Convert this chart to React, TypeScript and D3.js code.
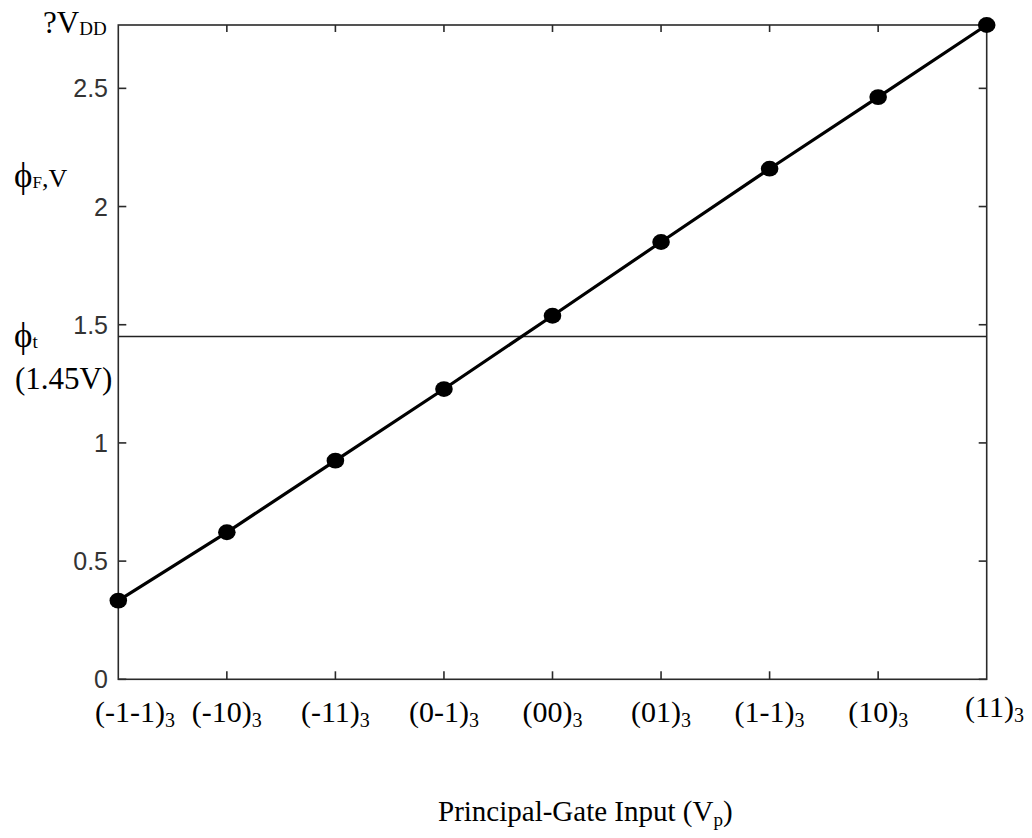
import React from "react";
import * as d3 from "d3";

const categories = ["(-1-1)", "(-10)", "(-11)", "(0-1)", "(00)", "(01)", "(1-1)", "(10)", "(11)"];
const phiF = [0.333, 0.622, 0.925, 1.228, 1.538, 1.85, 2.16, 2.463, 2.768];
const yTicks = [0, 0.5, 1, 1.5, 2, 2.5];
const threshold = 1.45;
const yMax = 2.768;

const L = 118.3, R = 986.7, T = 25, B = 679.3;
const serif = "'Liberation Serif', 'Times New Roman', serif";
const sans = "'Liberation Sans', Arial, sans-serif";

export default function App() {
  const x = d3.scaleLinear().domain([0, categories.length - 1]).range([L, R]);
  const y = d3.scaleLinear().domain([0, yMax]).range([B, T]);
  const line = d3.line<number>().x((_, i) => x(i)).y((d) => y(d));
  const tl = 8;
  const axis = "#2a2a2a";
  return (
    <svg width={1032} height={838} style={{ position: "absolute", left: 0, top: 0, background: "#fff" }}>
      {yTicks.map((t) => (
        <g key={"y" + t}>
          <line x1={L} x2={L + tl} y1={y(t)} y2={y(t)} stroke={axis} strokeWidth={1.6} />
          <line x1={R} x2={R - tl} y1={y(t)} y2={y(t)} stroke={axis} strokeWidth={1.6} />
          <text x={108} y={y(t)} dominantBaseline="central" textAnchor="end" fontFamily={sans} fontSize={25} fill="#333">
            {String(t)}
          </text>
        </g>
      ))}
      {categories.map((c, i) => (
        <g key={"x" + i}>
          {i > 0 && i < categories.length - 1 && (
            <>
              <line x1={x(i)} x2={x(i)} y1={B} y2={B - tl} stroke={axis} strokeWidth={1.6} />
              <line x1={x(i)} x2={x(i)} y1={T} y2={T + 7} stroke={axis} strokeWidth={1.6} />
            </>
          )}
          <text
            x={i === 0 ? 95 : i === categories.length - 1 ? 965 : x(i)}
            y={i === categories.length - 1 ? 717 : 722}
            textAnchor={i === 0 || i === categories.length - 1 ? "start" : "middle"}
            fontFamily={serif}
            fontSize={30}
            fill="#000"
          >
            {c}
            <tspan fontSize={20} dy={5}>3</tspan>
          </text>
        </g>
      ))}
      <rect x={L} y={T} width={R - L} height={B - T} fill="none" stroke={axis} strokeWidth={1.6} />
      <line x1={L} x2={R} y1={y(threshold)} y2={y(threshold)} stroke="#222" strokeWidth={1.6} />
      <path d={line(phiF) || ""} fill="none" stroke="#000" strokeWidth={3.2} />
      {phiF.map((v, i) => (
        <ellipse key={"p" + i} cx={x(i)} cy={y(v)} rx={8.8} ry={7.9} fill="#000" />
      ))}
      <text x={43} y={33} fontFamily={serif} fontSize={31} fill="#000">
        ?V<tspan fontSize={19} dy={2}>DD</tspan>
      </text>
      <text x={14} y={187} fontFamily={serif} fontSize={26} fill="#000">
        <tspan fontSize={35}>ϕ</tspan>
        <tspan fontSize={17} dy={1}>F</tspan>
        <tspan dy={-1}>,V</tspan>
      </text>
      <text x={14} y={347} fontFamily={serif} fontSize={26} fill="#000">
        <tspan fontSize={35}>ϕ</tspan>
        <tspan fontSize={19} dy={1}>t</tspan>
      </text>
      <text x={15} y={388.5} fontFamily={serif} fontSize={31} fill="#000">
        (1.45V)
      </text>
      <text x={438} y={821} fontFamily={serif} fontSize={29} fill="#000">
        Principal-Gate Input (V<tspan fontSize={19} dy={5}>p</tspan>
        <tspan dy={-5}>)</tspan>
      </text>
    </svg>
  );
}
